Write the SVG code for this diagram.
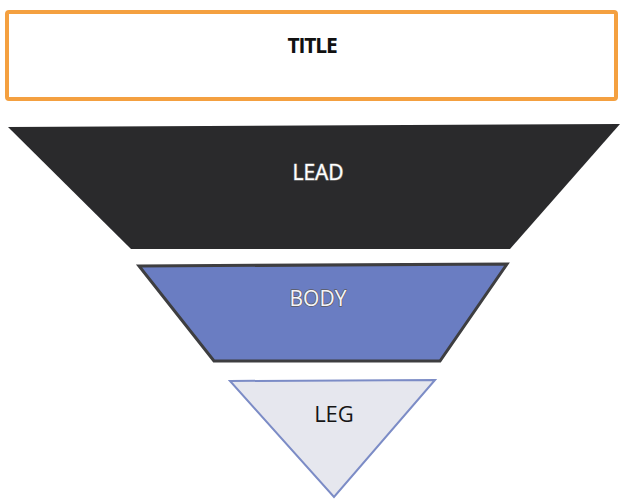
<svg xmlns="http://www.w3.org/2000/svg" width="623" height="503" viewBox="0 0 623 503">
<style>
text{font-family:"Open Sans","Liberation Sans",sans-serif;text-anchor:middle;dominant-baseline:central}
.outl{paint-order:stroke;stroke-linejoin:round}
</style>
<rect width="623" height="503" fill="#ffffff"/>
<g id="title">
<rect x="7" y="12" width="609" height="87" fill="#ffffff" stroke="#F4A040" stroke-width="4" rx="2"/>
<text x="312" y="45" font-size="21" font-weight="bold" fill="#111111" letter-spacing="-1.2">TITLE</text>
</g>
<g id="lead">
<polygon points="8,127 620,124 510,249 131,249" fill="#2a2a2c"/>
<text class="outl" x="318" y="172" font-size="21" fill="#ffffff" stroke="#8a8a8a" stroke-width="1.2">LEAD</text>
</g>
<g id="body">
<polygon points="139,266 507,264 440,361 214,361" fill="#6A7DC2" stroke="#3e3e40" stroke-width="3"/>
<text class="outl" x="318" y="298" font-size="21" fill="#f4f4f8" stroke="#5a5a60" stroke-width="1.4">BODY</text>
</g>
<g id="leg">
<polygon points="230,381 435,380 334,497" fill="#E6E7EE" stroke="#7C8CC6" stroke-width="2"/>
<text x="334" y="413" font-size="22" fill="#151515">LEG</text>
</g>
<g id="connectors"/>
</svg>
